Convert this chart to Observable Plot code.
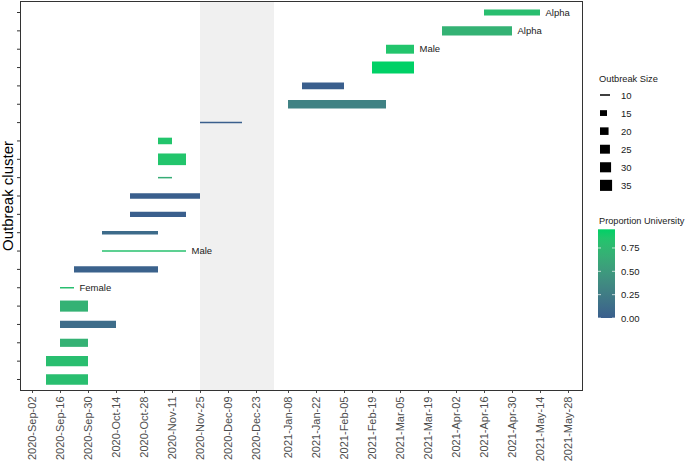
<!DOCTYPE html>
<html><head><meta charset="utf-8">
<script src="https://cdn.jsdelivr.net/npm/d3@7"></script>
<script src="https://cdn.jsdelivr.net/npm/@observablehq/plot@0.6"></script>
<style>
body{margin:0;background:#fff;font-family:"Liberation Sans",Arial,sans-serif;}
#wrap{position:relative;width:685px;height:461px;}
#wrap svg{display:block;}
#legend{position:absolute;left:0;top:0;pointer-events:none;}
</style></head><body><div id="wrap"></div>
<script>
const clusters = [1,2,3,4,5,6,7,8,9,10,11,12,13,14,15,16,17,18,19,20,21];
const startDates = ["2020-09-09","2020-09-09","2020-09-16","2020-09-16","2020-09-16","2020-09-16","2020-09-23","2020-10-07","2020-10-07","2020-10-21","2020-10-21","2020-11-04","2020-11-04","2020-11-04","2020-11-25","2021-01-08","2021-01-15","2021-02-19","2021-02-26","2021-03-26","2021-04-16"];
const endDates   = ["2020-09-30","2020-09-30","2020-09-30","2020-10-14","2020-09-30","2020-09-23","2020-11-04","2020-11-18","2020-11-04","2020-11-18","2020-11-25","2020-11-11","2020-11-18","2020-11-11","2020-12-16","2021-02-26","2021-02-05","2021-03-12","2021-03-12","2021-04-30","2021-05-14"];
const outbreakSizes = [31,31,22,19,35,10,16,10,11,14,14,10,38,17,10,24,17,40,25,27,16];
const propUniversity = [0.8,0.8,0.7,0.12,0.7,0.8,0.03,0.82,0.1,0,0,0.65,0.85,0.85,0,0.3,0,0.95,0.85,0.7,0.8];
const notes = ["","","","","","Female","","Male","","","","","","","","","","","Male","Alpha","Alpha"];
const lockdown = ["2020-11-25","2021-01-01"];
const xDomain = ["2020-08-27","2021-06-04"];
const xTicks = ["2020-09-02","2020-09-16","2020-09-30","2020-10-14","2020-10-28","2020-11-11","2020-11-25","2020-12-09","2020-12-23","2021-01-08","2021-01-22","2021-02-05","2021-02-19","2021-03-05","2021-03-19","2021-04-02","2021-04-16","2021-04-30","2021-05-14","2021-05-28"];
const sizeLegendValues = [10,15,20,25,30,35];
const colorLegendValues = [0,0.25,0.5,0.75];

const parse = d3.utcParse("%Y-%m-%d");
const rows = clusters.map((c,i)=>({cluster:c,start:parse(startDates[i]),end:parse(endDates[i]),size:outbreakSizes[i],prop:propUniversity[i],note:notes[i]}));

const sizeMin = 10, sizeMax = 40;
const widthOf = v => 1.5 + 10.5*Math.sqrt(Math.max(0, v - sizeMin)/(sizeMax - sizeMin));
const propMax = 0.95;
const FONT = '"Liberation Sans", Arial, sans-serif';

const chart = Plot.plot({
  width: 685, height: 461,
  marginLeft: 20, marginRight: 103, marginTop: 1, marginBottom: 71,
  style: {fontFamily: FONT, background: "#fff", overflow: "visible"},
  x: {type: "utc", domain: xDomain.map(parse)},
  y: {domain: [0.4, 21.6]},
  color: {type: "linear", domain: [0, propMax], range: ["#3a5f8d", "#00d166"], interpolate: "lab", clamp: true},
  marks: [
    Plot.rect([lockdown], {x1: d => parse(d[0]), x2: d => parse(d[1]), fill: "#f0f0f0"}),
    Plot.ruleY(rows, {y: "cluster", x1: "start", x2: "end", stroke: "prop", strokeWidth: d => widthOf(d.size)}),
    Plot.text(rows.filter(d => d.note), {x: "end", y: "cluster", text: "note", dx: 5, textAnchor: "start", fontSize: 9.5, fill: "#1a1a1a"}),
    Plot.axisX({ticks: xTicks.map(parse), tickFormat: d3.utcFormat("%Y-%b-%d"), tickRotate: -90, tickSize: 3, tickPadding: 3, fontSize: 11, label: null, color: "#4d4d4d"}),
    Plot.axisY({ticks: clusters, tickFormat: () => "", tickSize: 3, label: null, color: "#333"}),
    Plot.text(["Outbreak cluster"], {frameAnchor: "left", textAnchor: "middle", rotate: -90, dx: -12, fontSize: 15, fill: "#000"}),
    Plot.frame({stroke: "#333"})
  ]
});
document.getElementById("wrap").appendChild(chart);

// Legends
const cs = chart.scale("color");
const svg = d3.create("svg").attr("id","legend").attr("width",685).attr("height",461)
  .style("font-family", FONT).style("font-size","9.5px");

svg.append("text").attr("x",599).attr("y",81.5).attr("fill","#1a1a1a").attr("font-size","9.3px").text("Outbreak Size");
sizeLegendValues.forEach((v,i) => {
  const cy = 95 + 18.07*i;
  const w = widthOf(v);
  const len = w < 3 ? 10 : Math.max(w + 1, 7);
  svg.append("rect").attr("x",600).attr("y",cy - w/2).attr("width",len).attr("height",w).attr("fill","#000");
  svg.append("text").attr("x",621).attr("y",cy+3.5).attr("fill","#1a1a1a").text(v);
});

svg.append("text").attr("x",599).attr("y",223.5).attr("fill","#1a1a1a").attr("font-size","9.2px").text("Proportion University");
const barTop = 229.3, barBot = 318, barX = 598, barW = 17;
const yOf = v => barBot - v*(barBot-barTop)/propMax;
const grad = svg.append("defs").append("linearGradient").attr("id","cg").attr("x1",0).attr("y1",1).attr("x2",0).attr("y2",0);
d3.range(0, 1.0001, 0.1).forEach(t => grad.append("stop").attr("offset", t).attr("stop-color", cs.apply(t*propMax)));
svg.append("rect").attr("x",barX).attr("y",barTop).attr("width",barW).attr("height",barBot-barTop).attr("fill","url(#cg)");
colorLegendValues.forEach(v => {
  const y = yOf(v);
  svg.append("line").attr("x1",barX).attr("x2",barX+3).attr("y1",y).attr("y2",y).attr("stroke","#fff").attr("stroke-opacity",0.7);
  svg.append("line").attr("x1",barX+barW-3).attr("x2",barX+barW).attr("y1",y).attr("y2",y).attr("stroke","#fff").attr("stroke-opacity",0.7);
  svg.append("text").attr("x",621).attr("y",y+3.5).attr("fill","#1a1a1a").text(v.toFixed(2));
});
document.getElementById("wrap").appendChild(svg.node());
</script></body></html>
